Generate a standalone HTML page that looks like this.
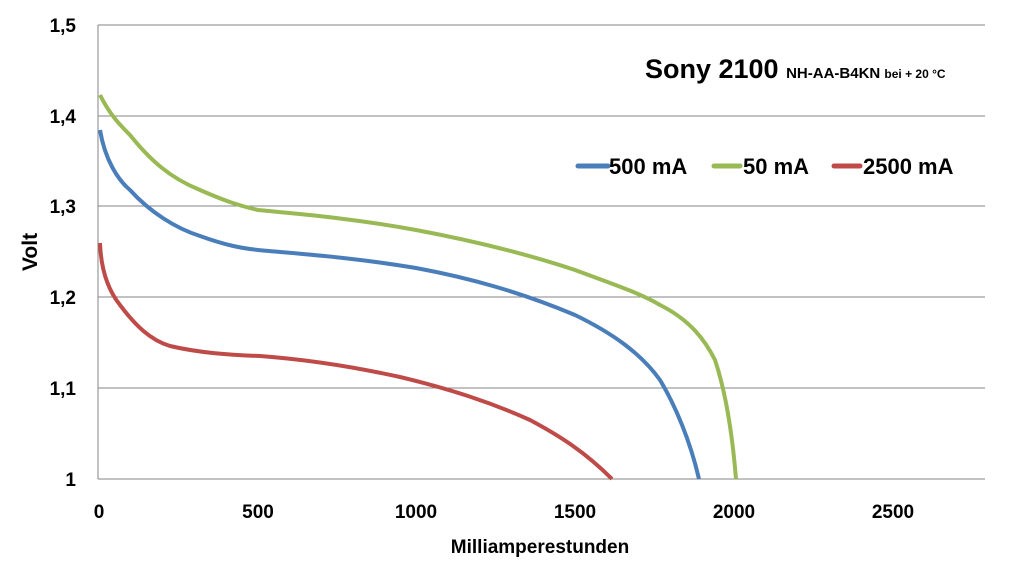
<!DOCTYPE html>
<html><head><style>body{margin:0;background:#fff}svg text{font-family:"Liberation Sans",sans-serif;font-weight:bold}</style></head>
<body><svg width="1021" height="571" viewBox="0 0 1021 571">
<g stroke="#868686" stroke-width="1">
<line x1="98" y1="25" x2="985" y2="25"/><line x1="98" y1="116" x2="985" y2="116"/><line x1="98" y1="206" x2="985" y2="206"/><line x1="98" y1="297" x2="985" y2="297"/><line x1="98" y1="388" x2="985" y2="388"/><line x1="98" y1="479" x2="985" y2="479"/>
<line x1="98" y1="25" x2="98" y2="479"/>
</g>
<g font-size="19" text-anchor="end" fill="#000">
<text x="76" y="32">1,5</text><text x="76" y="123">1,4</text><text x="76" y="213">1,3</text><text x="76" y="304">1,2</text><text x="76" y="395">1,1</text><text x="76" y="486">1</text></g>
<g font-size="19" text-anchor="middle">
<text x="99" y="518">0</text><text x="258" y="518">500</text><text x="416" y="518">1000</text><text x="575" y="518">1500</text><text x="734" y="518">2000</text><text x="893" y="518">2500</text></g>
<text x="540" y="553" font-size="19" text-anchor="middle">Milliamperestunden</text>
<text transform="translate(37,252) rotate(-90)" font-size="21" text-anchor="middle">Volt</text>
<text x="645" y="78" font-size="27">Sony 2100 <tspan font-size="15">NH-AA-B4KN <tspan font-size="12">bei + 20 °C</tspan></tspan></text>
<g stroke-width="5" stroke-linecap="round">
<line x1="578" y1="166" x2="608" y2="166" stroke="#4a7ebb"/>
<line x1="714" y1="166" x2="740" y2="166" stroke="#98b954"/>
<line x1="834" y1="166" x2="860" y2="166" stroke="#be4b48"/></g>
<g font-size="22"><text x="609" y="174">500 mA</text><text x="743" y="174">50 mA</text><text x="863" y="174">2500 mA</text></g>
<g fill="none" stroke-width="4" stroke-linejoin="round">
<path stroke="#98b954" d="M100,95 C110,115 120,125 130,135 C150,160 170,178 200,190 C225,201 240,206 258,210 C300,214 350,218 416,230 C480,242 530,255 575,270 C610,283 640,293 660,305 C690,320 705,340 715,360 C725,390 732,430 736,479"/>
<path stroke="#4a7ebb" d="M100,130 C105,160 118,180 130,190 C150,212 175,228 200,236 C225,245 240,248 258,250 C300,254 350,257 416,268 C470,278 520,292 575,315 C610,332 640,352 660,380 C675,405 690,440 699,479"/>
<path stroke="#be4b48" d="M100,243 C101,270 108,290 120,305 C135,325 150,340 170,346 C200,353 230,355 260,356 C300,359 350,366 400,377 C450,389 490,402 530,420 C560,436 585,452 612,479"/>
</g>
</svg></body></html>
